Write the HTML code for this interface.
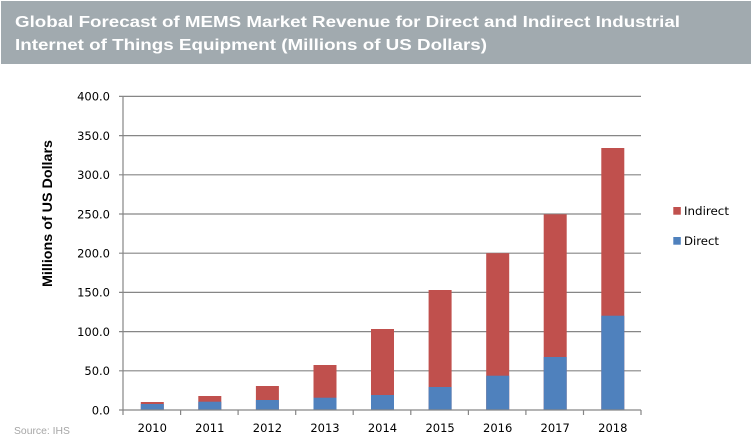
<!DOCTYPE html>
<html><head><meta charset="utf-8"><style>
html,body{margin:0;padding:0;background:#fff;}
svg{display:block;}
</style></head><body>
<svg width="751" height="436" viewBox="0 0 751 436" xmlns="http://www.w3.org/2000/svg">
<rect x="1" y="1" width="750" height="63" fill="#A1AAAF"/>
<g font-family="'Liberation Sans', Arial, sans-serif" font-weight="bold" fill="#ffffff" font-size="16">
<text x="15" y="27" textLength="665" lengthAdjust="spacingAndGlyphs">Global Forecast of MEMS Market Revenue for Direct and Indirect Industrial</text>
<text x="15" y="50" textLength="472" lengthAdjust="spacingAndGlyphs">Internet of Things Equipment (Millions of US Dollars)</text>
</g>
<!-- gridlines -->
<g stroke="#868686" stroke-width="1.2">
<line x1="119" y1="96.4" x2="641" y2="96.4"/>
<line x1="119" y1="135.6" x2="641" y2="135.6"/>
<line x1="119" y1="174.8" x2="641" y2="174.8"/>
<line x1="119" y1="214" x2="641" y2="214"/>
<line x1="119" y1="253.2" x2="641" y2="253.2"/>
<line x1="119" y1="292.4" x2="641" y2="292.4"/>
<line x1="119" y1="331.6" x2="641" y2="331.6"/>
<line x1="119" y1="370.8" x2="641" y2="370.8"/>
</g>
<!-- bars -->
<g>
<rect x="140.8" y="402.0" width="23" height="8" fill="#C0504D"/>
<rect x="140.8" y="404.0" width="23" height="6" fill="#4F81BD"/>
<rect x="198.3" y="396.0" width="23" height="14" fill="#C0504D"/>
<rect x="198.3" y="401.7" width="23" height="8.3" fill="#4F81BD"/>
<rect x="255.9" y="386.0" width="23" height="24" fill="#C0504D"/>
<rect x="255.9" y="400.0" width="23" height="10" fill="#4F81BD"/>
<rect x="313.5" y="365.0" width="23" height="45" fill="#C0504D"/>
<rect x="313.5" y="397.7" width="23" height="12.3" fill="#4F81BD"/>
<rect x="371.0" y="329.0" width="23" height="81" fill="#C0504D"/>
<rect x="371.0" y="395.0" width="23" height="15" fill="#4F81BD"/>
<rect x="428.6" y="290.0" width="23" height="120" fill="#C0504D"/>
<rect x="428.6" y="387.0" width="23" height="23" fill="#4F81BD"/>
<rect x="486.2" y="253.2" width="23" height="156.8" fill="#C0504D"/>
<rect x="486.2" y="375.7" width="23" height="34.3" fill="#4F81BD"/>
<rect x="543.7" y="214.3" width="23" height="195.7" fill="#C0504D"/>
<rect x="543.7" y="357.0" width="23" height="53" fill="#4F81BD"/>
<rect x="601.3" y="148.0" width="23" height="262" fill="#C0504D"/>
<rect x="601.3" y="315.7" width="23" height="94.3" fill="#4F81BD"/>
</g>
<!-- axes -->
<g stroke="#868686" stroke-width="1.2">
<line x1="119" y1="410" x2="641" y2="410"/>
<line x1="123" y1="96.4" x2="123" y2="415"/>
<line x1="180.6" y1="410" x2="180.6" y2="415"/>
<line x1="238.1" y1="410" x2="238.1" y2="415"/>
<line x1="295.7" y1="410" x2="295.7" y2="415"/>
<line x1="353.2" y1="410" x2="353.2" y2="415"/>
<line x1="410.8" y1="410" x2="410.8" y2="415"/>
<line x1="468.4" y1="410" x2="468.4" y2="415"/>
<line x1="525.9" y1="410" x2="525.9" y2="415"/>
<line x1="583.5" y1="410" x2="583.5" y2="415"/>
<line x1="641" y1="410" x2="641" y2="415"/>
</g>
<!-- y tick labels -->
<g font-family="'DejaVu Sans', 'Liberation Sans', sans-serif" font-size="11.5" fill="#000" text-anchor="end">
<text x="110" y="100.7">400.0</text>
<text x="110" y="139.9">350.0</text>
<text x="110" y="179.1">300.0</text>
<text x="110" y="218.3">250.0</text>
<text x="110" y="257.5">200.0</text>
<text x="110" y="296.7">150.0</text>
<text x="110" y="335.9">100.0</text>
<text x="110" y="375.1">50.0</text>
<text x="110" y="414.3">0.0</text>
</g>
<!-- x labels -->
<g font-family="'DejaVu Sans', 'Liberation Sans', sans-serif" font-size="11.5" fill="#000" text-anchor="middle">
<text x="152.3" y="432">2010</text>
<text x="209.8" y="432">2011</text>
<text x="267.4" y="432">2012</text>
<text x="325.0" y="432">2013</text>
<text x="382.5" y="432">2014</text>
<text x="440.1" y="432">2015</text>
<text x="497.7" y="432">2016</text>
<text x="555.2" y="432">2017</text>
<text x="612.8" y="432">2018</text>
</g>
<!-- y axis title -->
<text transform="translate(52,213.5) rotate(-90)" text-anchor="middle" font-family="'Liberation Sans', Arial, sans-serif" font-weight="bold" font-size="14" fill="#000" textLength="147" lengthAdjust="spacingAndGlyphs">Millions of US Dollars</text>
<!-- legend -->
<rect x="673.3" y="207" width="7.5" height="7.7" fill="#C0504D"/>
<rect x="673.3" y="237" width="7.5" height="7.7" fill="#4F81BD"/>
<g font-family="'DejaVu Sans', 'Liberation Sans', sans-serif" font-size="11.5" fill="#000">
<text x="684" y="215" textLength="45" lengthAdjust="spacingAndGlyphs">Indirect</text>
<text x="684" y="245" textLength="35" lengthAdjust="spacingAndGlyphs">Direct</text>
</g>
<!-- source -->
<text x="14" y="434" font-family="'Liberation Sans', Arial, sans-serif" font-size="10" fill="#A6A6A6" textLength="56" lengthAdjust="spacingAndGlyphs">Source: IHS</text>
</svg>
</body></html>
